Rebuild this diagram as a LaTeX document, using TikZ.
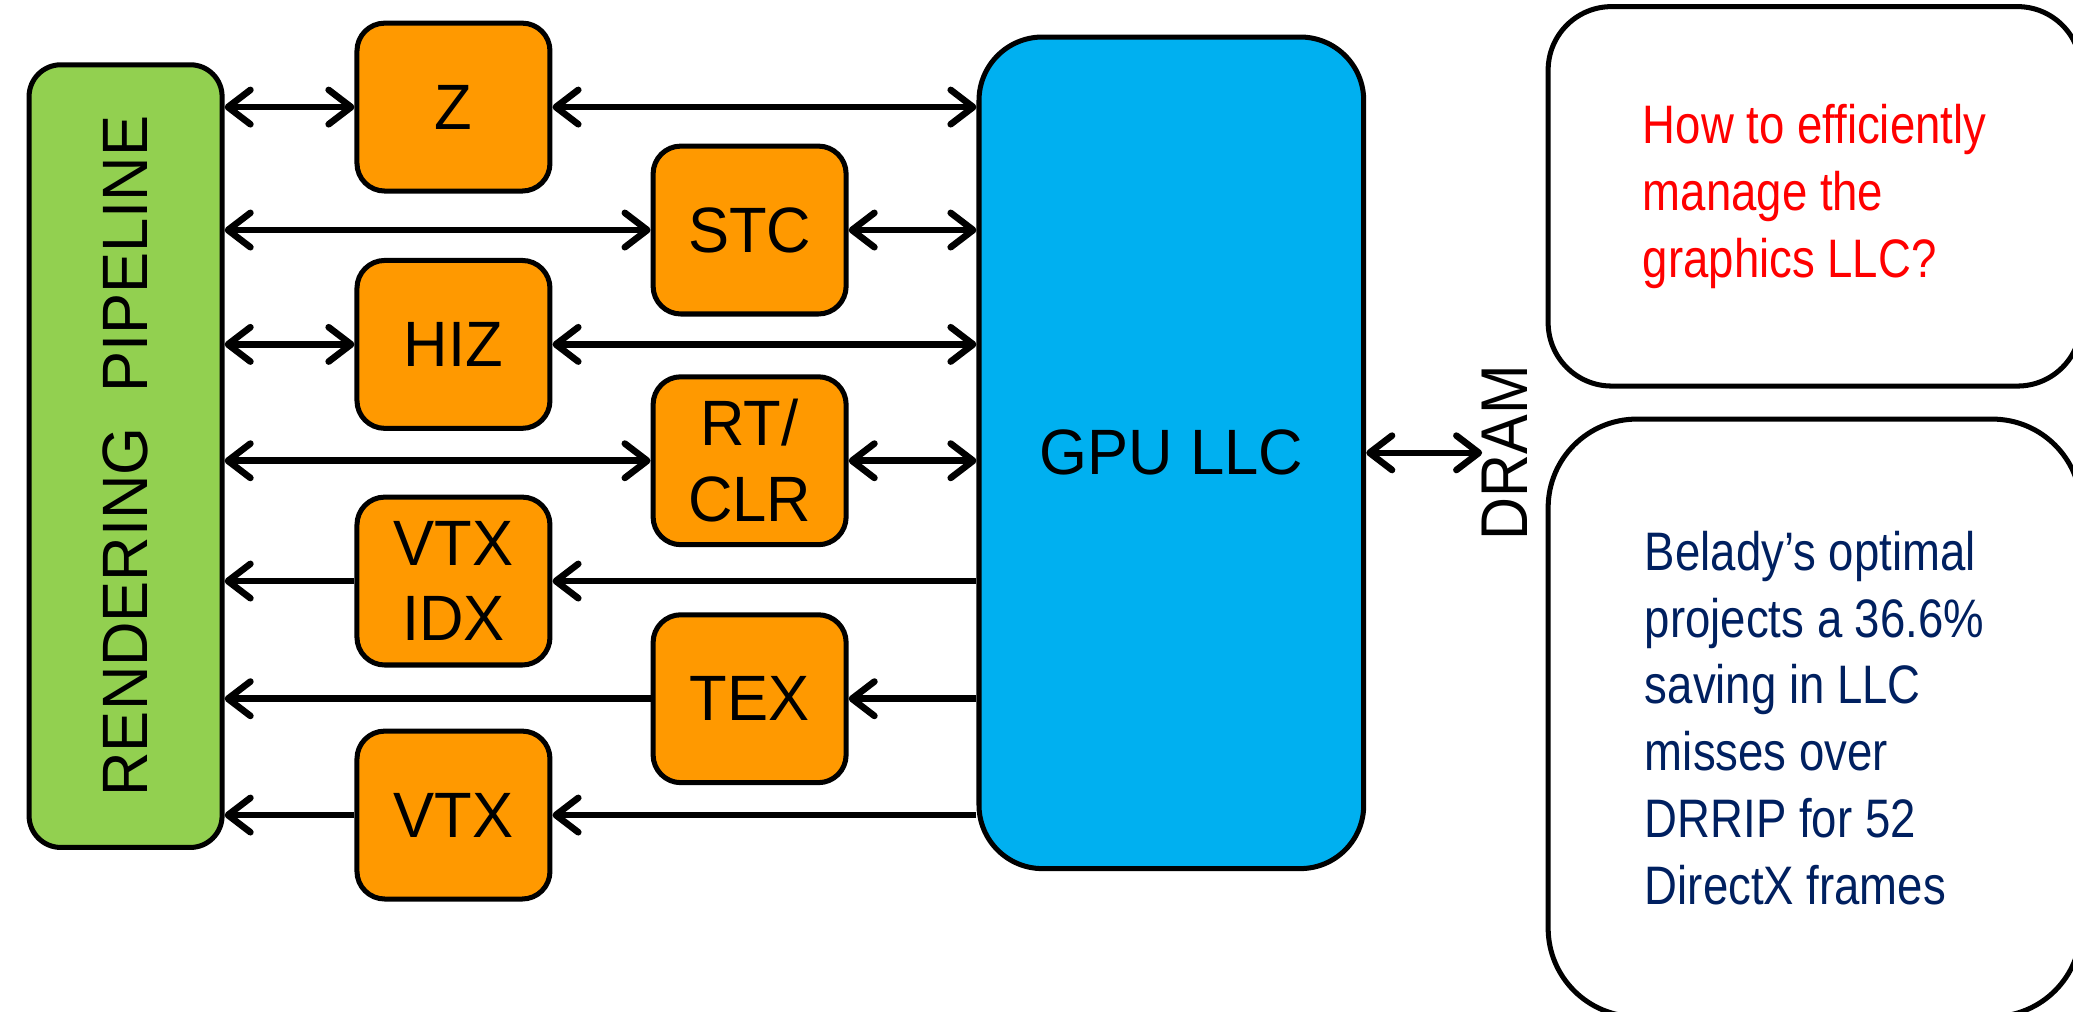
\documentclass[tikz,border=0pt]{standalone}
\usepackage{graphicx}
\usepackage{fontspec}
\setmainfont{Liberation Sans}
\newfontfamily\lblfont[FakeStretch=0.96]{Liberation Sans}
\newfontfamily\dramfont[FakeStretch=0.9]{Liberation Sans}
\newfontfamily\notefont[FakeStretch=0.84]{Liberation Sans}
\usetikzlibrary{arrows.meta}
\definecolor{pipegreen}{RGB}{146,208,80}
\definecolor{unitorange}{RGB}{255,153,0}
\definecolor{llcblue}{RGB}{0,176,240}
\definecolor{notenavy}{RGB}{0,32,96}
\definecolor{notered}{RGB}{255,0,0}
\begin{document}
\begin{tikzpicture}[x=1pt,y=-1pt,
  >={Straight Barb[length=17pt,width=26pt,round]},
  blk/.style={draw=black, line width=3.8pt, inner sep=0pt, align=center,
    font=\lblfont\fontsize{48.5}{57}\selectfont},
  unit/.style={blk, fill=unitorange, minimum width=146pt, minimum height=127pt,
    rounded corners=21pt},
  note/.style={draw=black, line width=3.8pt, fill=white, inner sep=0pt,
    align=left, minimum width=403pt, font=\notefont\fontsize{41}{50.5}\selectfont},
  link/.style={line width=5pt}]
\useasboundingbox (0,0) rectangle (1568,765);
\clip (0,0) rectangle (1568,765);

% rendering pipeline and the last-level cache
\node[blk, fill=pipegreen, minimum width=146pt, minimum height=592pt,
  rounded corners=24pt] (pipe) at (95,345) {\rotatebox{90}{RENDERING\ \ PIPELINE}};
\node[blk, fill=llcblue, minimum width=291pt, minimum height=629pt,
  rounded corners=48pt] (gpu) at (886,342.5) {GPU LLC};

% per-stream caches
\node[unit] (z)   at (343,81)    {Z};
\node[unit] (stc) at (567,174)   {STC};
\node[unit] (hiz) at (343,260.5) {HIZ};
\node[unit] (rt)  at (567,348.5) {RT/\\CLR};
\node[unit] (vi)  at (343,439.5) {VTX\\IDX};
\node[unit] (tex) at (567,528.5) {TEX};
\node[unit] (vtx) at (343,616.5) {VTX};

% memory
\node[inner sep=0pt, rotate=90, font=\dramfont\fontsize{50}{60}\selectfont]
  (dram) at (1138.5,342.5) {DRAM};

% notes
\node[note, minimum height=287pt, rounded corners=48pt, text=notered]
  (question) at (1372.5,148.5) {How to efficiently\\manage the\\graphics LLC?};
\node[note, minimum height=452pt, rounded corners=67pt, text=notenavy]
  (result) at (1372.5,543) {Belady’s optimal\\projects a 36.6\%\\saving in LLC\\misses over\\DRRIP for 52\\DirectX frames};

% read/write streams
\foreach \u in {z,stc,hiz,rt}{
  \draw[link,<->] (\u.west -| pipe.east) -- (\u.west);
  \draw[link,<->] (\u.east) -- (\u.east -| gpu.west);
}
% read-only streams
\foreach \u in {vi,tex,vtx}{
  \draw[link,->] (\u.west) -- (\u.west -| pipe.east);
  \draw[link,->] (\u.east -| gpu.west) -- (\u.east);
}
\draw[link,<->] (gpu.east |- dram.north) -- (dram.north);
\end{tikzpicture}
\end{document}
